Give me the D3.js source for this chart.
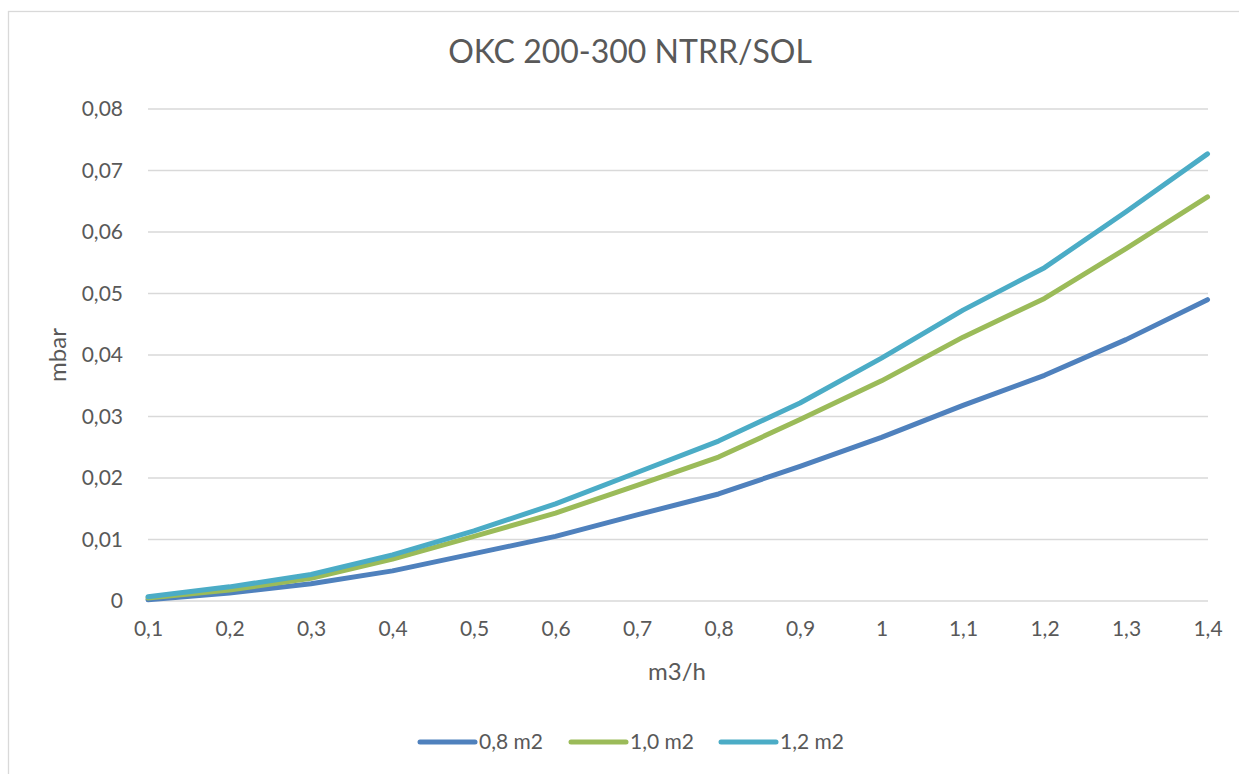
<!DOCTYPE html>
<html>
<head>
<meta charset="utf-8">
<script src="https://cdn.jsdelivr.net/npm/d3@7"></script>
<style>
  body { margin: 0; background: #fff; }
  text { font-family: Lato, "Open Sans", sans-serif; fill: #595959; }
</style>
</head>
<body>
<script>
// chart data
var categories = ['0,1', '0,2', '0,3', '0,4', '0,5', '0,6', '0,7', '0,8', '0,9', '1', '1,1', '1,2', '1,3', '1,4'];
var seriesNames = ['0,8 m2', '1,0 m2', '1,2 m2'];
var s08 = [0.0002, 0.0013, 0.0028, 0.0049, 0.0077, 0.0105, 0.0140, 0.0174, 0.0219, 0.0266, 0.0318, 0.0367, 0.0425, 0.0490];
var s10 = [0.0005, 0.0018, 0.0037, 0.0068, 0.0105, 0.0143, 0.0188, 0.0234, 0.0295, 0.0358, 0.0429, 0.0492, 0.0573, 0.0657];
var s12 = [0.0007, 0.0023, 0.0043, 0.0075, 0.0114, 0.0158, 0.0209, 0.0260, 0.0322, 0.0395, 0.0473, 0.0542, 0.0633, 0.0727];
var yTickValues = [0, 0.01, 0.02, 0.03, 0.04, 0.05, 0.06, 0.07, 0.08];
var yTickLabels = ['0', '0,01', '0,02', '0,03', '0,04', '0,05', '0,06', '0,07', '0,08'];

var colors = ['#4F81BD', '#9BBB59', '#4BACC6'];
var series = [s08, s10, s12];

var W = 1239, H = 774;
var svg = d3.select('body').append('svg').attr('width', W).attr('height', H);

// chart frame (runs past the right and bottom edge, like the screenshot)
svg.append('rect')
    .attr('x', 8.5).attr('y', 11.5)
    .attr('width', 1300).attr('height', 900)
    .attr('fill', 'none').attr('stroke', '#d9d9d9').attr('stroke-width', 1.3);

var x = d3.scalePoint().domain(categories).range([148, 1207.5]);
var y = d3.scaleLinear().domain([0, 0.08]).range([601, 109]);

// grid lines
svg.append('g').selectAll('line').data(yTickValues)
    .enter().append('line')
        .attr('x1', 148).attr('x2', 1208)
        .attr('y1', function (d) { return y(d); })
        .attr('y2', function (d) { return y(d); })
        .attr('stroke', '#d9d9d9').attr('stroke-width', 1.3);

// y axis labels
var yAxis = d3.axisLeft(y).tickValues(yTickValues)
    .tickFormat(function (d, i) { return yTickLabels[i]; })
    .tickSize(0).tickPadding(25);
var gy = svg.append('g').attr('transform', 'translate(148,0)').call(yAxis);
gy.select('.domain').remove();
gy.selectAll('text').style('font-size', '21px').attr('fill', '#595959')
    .style('font-family', 'Lato, sans-serif');

// x axis labels
var xAxis = d3.axisBottom(x).tickSize(0).tickPadding(20);
var gx = svg.append('g').attr('transform', 'translate(0,601)').call(xAxis);
gx.select('.domain').remove();
gx.selectAll('text').style('font-size', '21px').attr('fill', '#595959')
    .style('font-family', 'Lato, sans-serif');

// lines
var line = d3.line()
    .x(function (d, i) { return x(categories[i]); })
    .y(function (d) { return y(d); });

svg.append('g').selectAll('path').data(series)
    .enter().append('path')
        .attr('d', line)
        .attr('fill', 'none')
        .attr('stroke', function (d, i) { return colors[i]; })
        .attr('stroke-width', 5)
        .attr('stroke-linejoin', 'round')
        .attr('stroke-linecap', 'round');

// titles
svg.append('text')
    .attr('x', 630).attr('y', 63)
    .attr('text-anchor', 'middle')
    .style('font-size', '32px')
    .text('OKC 200-300 NTRR/SOL');

svg.append('text')
    .attr('x', 677).attr('y', 680)
    .attr('text-anchor', 'middle')
    .style('font-size', '24px')
    .text('m3/h');

svg.append('text')
    .attr('transform', 'translate(66,355) rotate(-90)')
    .attr('text-anchor', 'middle')
    .style('font-size', '24px')
    .text('mbar');

// legend
var legendX = [420, 571, 721];
var lg = svg.append('g').selectAll('g').data(seriesNames)
    .enter().append('g')
        .attr('transform', function (d, i) { return 'translate(' + legendX[i] + ',742)'; });
lg.append('line')
    .attr('x1', 0).attr('x2', 55).attr('y1', 0).attr('y2', 0)
    .attr('stroke', function (d, i) { return colors[i]; })
    .attr('stroke-width', 5).attr('stroke-linecap', 'round');
lg.append('text')
    .attr('x', 59).attr('y', 7)
    .style('font-size', '21px')
    .text(function (d) { return d; });
</script>
</body>
</html>
